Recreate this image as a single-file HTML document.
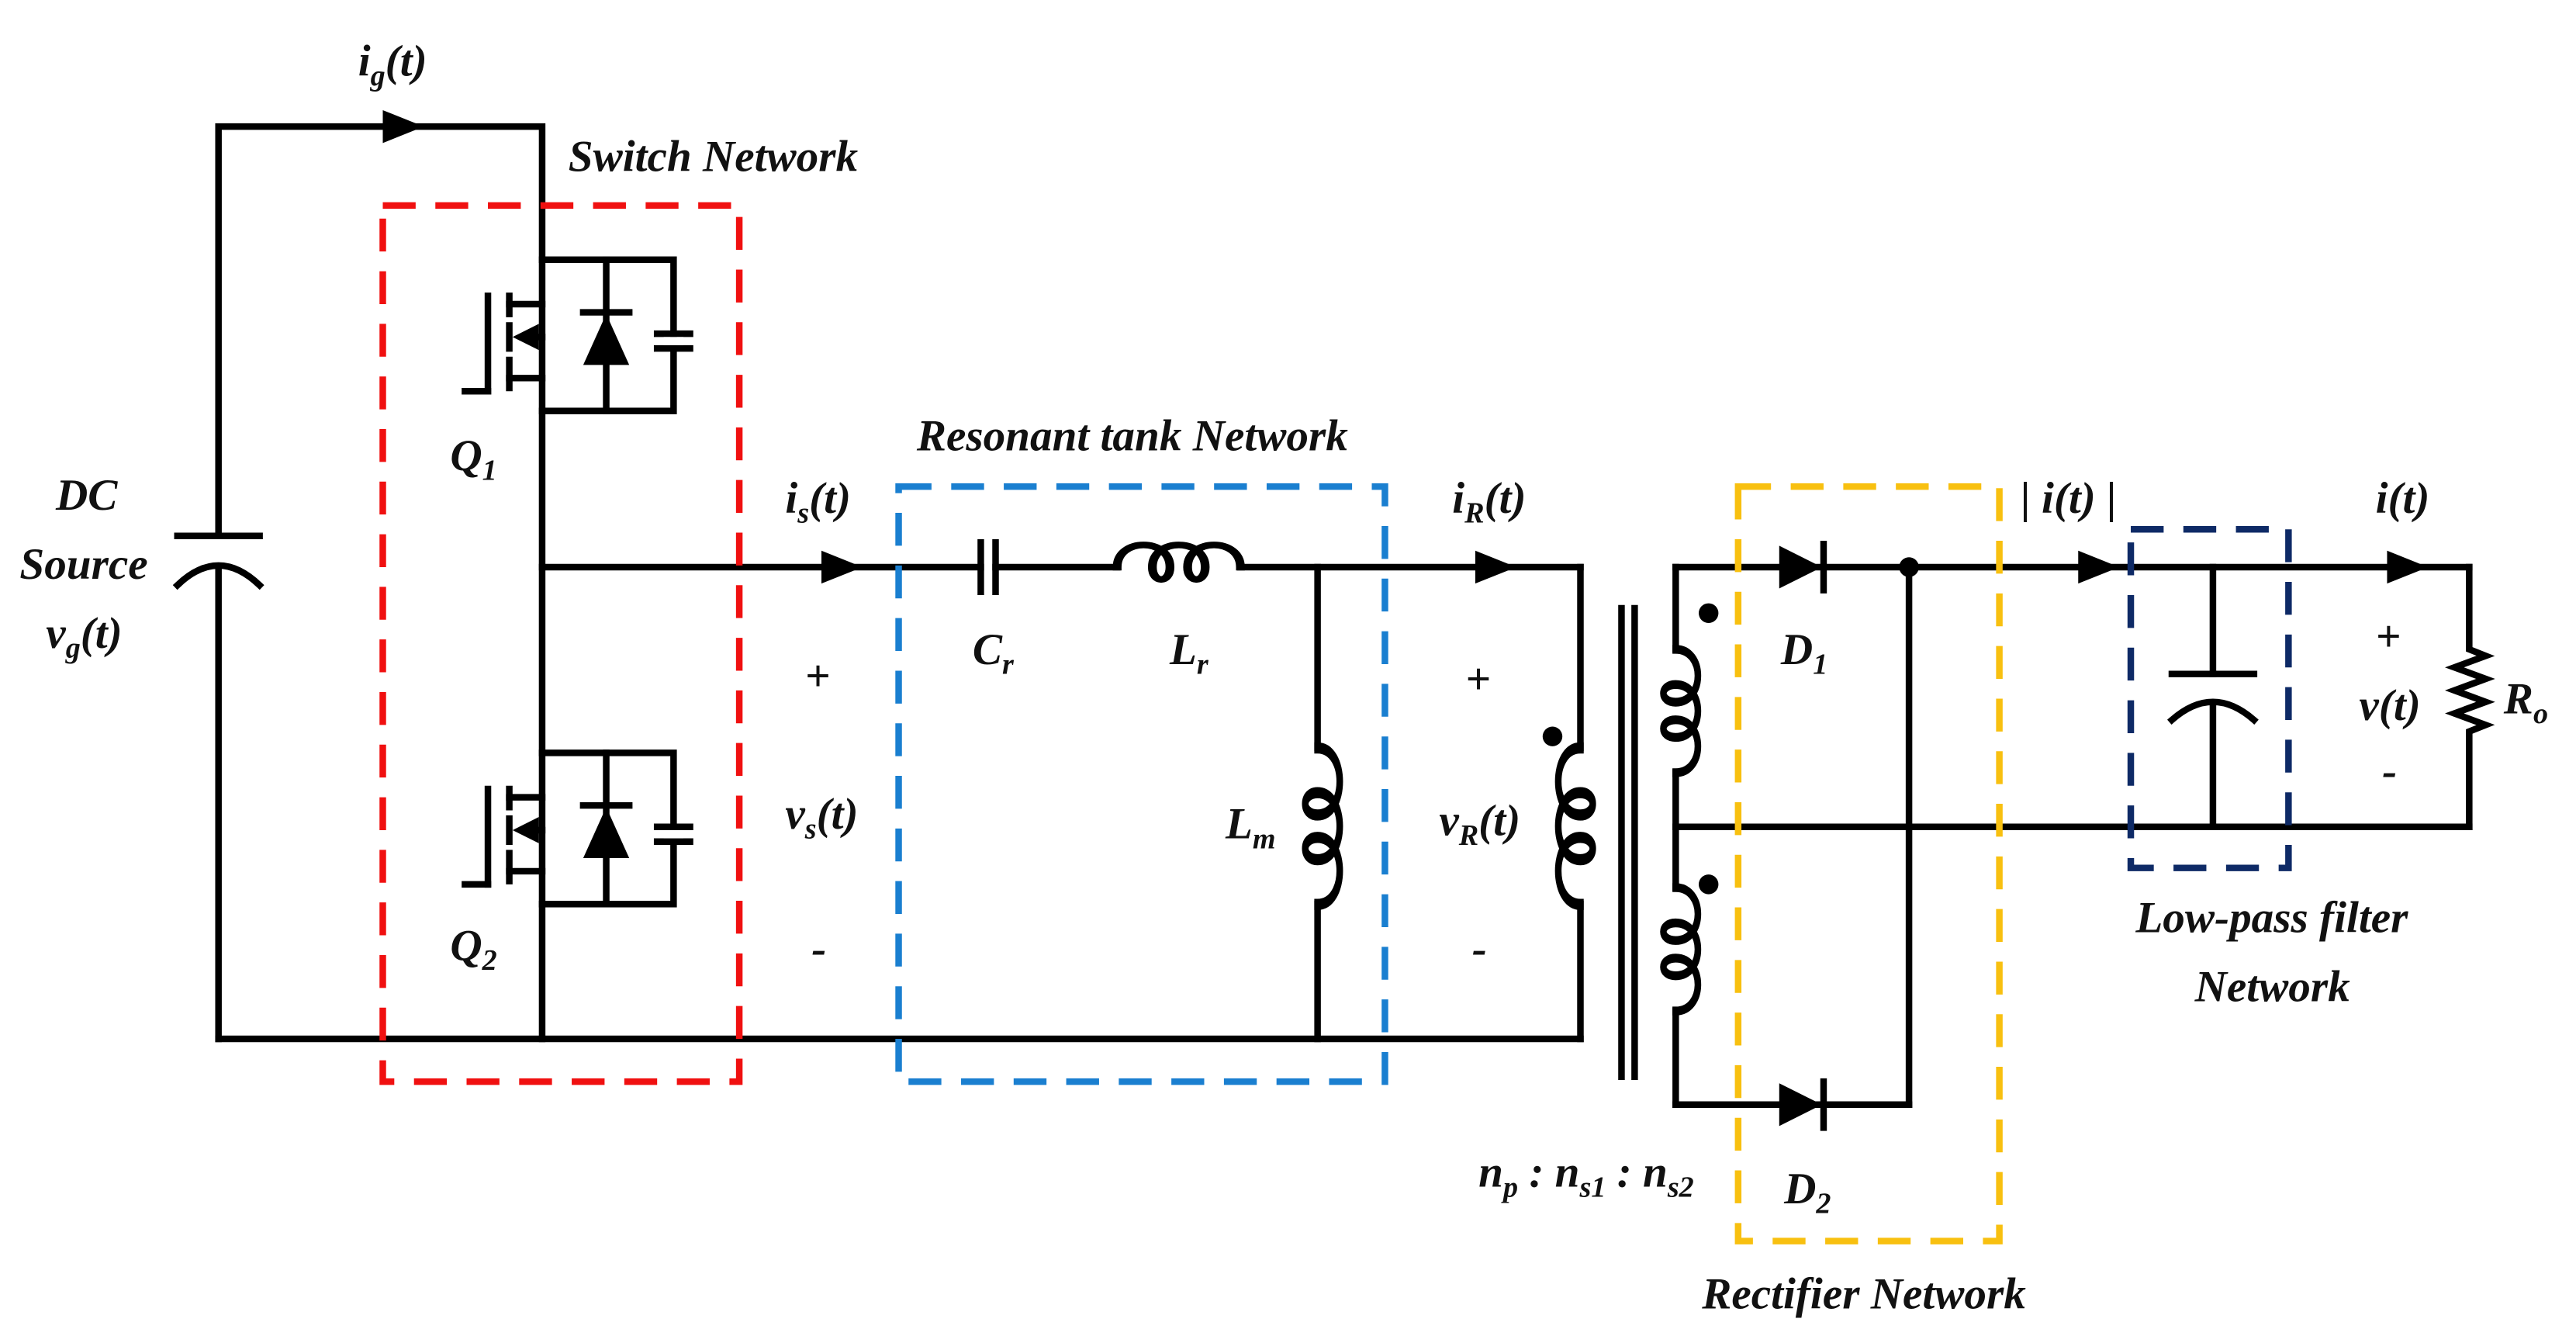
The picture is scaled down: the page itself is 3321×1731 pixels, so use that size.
<!DOCTYPE html>
<html><head><meta charset="utf-8"><style>
html,body{margin:0;padding:0;background:#fff;}
svg{display:block;}
text{font-family:"Liberation Serif",serif;font-weight:bold;font-style:italic;fill:#111;}
</style></head><body>
<svg width="3321" height="1731" viewBox="0 0 1568 817" preserveAspectRatio="none" xmlns="http://www.w3.org/2000/svg">
<defs>
<path id="coil" d="M0,0 c0,-18 24,-18 24,0 c0,10 -8,10 -8,0 c0,-18 24,-18 24,0 c0,10 -8,10 -8,0 c0,-18 24,-18 24,0" fill="none"/>
<g id="sw" stroke="#000" stroke-width="4" fill="none" stroke-linecap="square">
  <rect x="330" y="158" width="80" height="92"/>
  <line x1="369" y1="158" x2="369" y2="250"/>
  <line x1="355" y1="190" x2="383" y2="190"/>
  <polygon points="369,191 355,222 383,222" fill="#000" stroke="none"/>
  <line x1="310" y1="185" x2="330" y2="185"/>
  <line x1="310" y1="230" x2="330" y2="230"/>
  <line x1="318" y1="205" x2="330" y2="205"/>
  <polygon points="312,205 328,197 328,213" fill="#000" stroke="none"/>
  <line x1="310" y1="180" x2="310" y2="191"/>
  <line x1="310" y1="198" x2="310" y2="212"/>
  <line x1="310" y1="219" x2="310" y2="236"/>
  <line x1="297" y1="180" x2="297" y2="238"/>
  <line x1="283" y1="238" x2="297" y2="238"/>
</g>
</defs>
<rect x="0" y="0" width="1568" height="817" fill="#fff"/>

<g stroke="#000" stroke-width="4" fill="none" stroke-linecap="square">
  <!-- left source loop -->
  <polyline points="133,326 133,77 330,77 330,158"/>
  <line x1="133" y1="347" x2="133" y2="632"/>
  <line x1="108" y1="326" x2="158" y2="326"/>
  <path d="M108,356 Q133,332 158,356"/>
  <line x1="330" y1="250" x2="330" y2="458"/>
  <line x1="330" y1="550" x2="330" y2="632"/>
  <line x1="133" y1="632" x2="962" y2="632"/>
  <!-- mid wire -->
  <line x1="330" y1="345" x2="597" y2="345"/>
  <line x1="597" y1="330" x2="597" y2="360"/>
  <line x1="606" y1="330" x2="606" y2="360"/>
  <line x1="606" y1="345" x2="680" y2="345"/>
  <use href="#coil" transform="translate(680,345) scale(1.34,1)"/>
  <line x1="755" y1="345" x2="962" y2="345"/>
  <line x1="802" y1="345" x2="802" y2="455"/>
  <use href="#coil" transform="translate(802,455) rotate(90) scale(1.7,1)"/>
  <line x1="802" y1="550" x2="802" y2="632"/>
  <!-- primary -->
  <line x1="962" y1="345" x2="962" y2="455"/>
  <use href="#coil" transform="translate(962,455) rotate(90) scale(1.7,-1)"/>
  <line x1="962" y1="550" x2="962" y2="632"/>
  <!-- core -->
  <line x1="987" y1="370" x2="987" y2="655"/>
  <line x1="995" y1="370" x2="995" y2="655"/>
  <!-- secondary -->
  <line x1="1020" y1="345" x2="1020" y2="395"/>
  <use href="#coil" transform="translate(1020,395) rotate(90) scale(1.34,1)"/>
  <line x1="1020" y1="470" x2="1020" y2="540"/>
  <use href="#coil" transform="translate(1020,540) rotate(90) scale(1.34,1)"/>
  <line x1="1020" y1="615" x2="1020" y2="672"/>
  <line x1="1020" y1="345" x2="1503" y2="345"/>
  <line x1="1020" y1="503" x2="1503" y2="503"/>
  <line x1="1020" y1="672" x2="1162" y2="672"/>
  <line x1="1162" y1="345" x2="1162" y2="672"/>
  <line x1="1110" y1="331" x2="1110" y2="359"/>
  <line x1="1110" y1="658" x2="1110" y2="686"/>
  <!-- output cap -->
  <line x1="1347" y1="345" x2="1347" y2="410"/>
  <line x1="1322" y1="410" x2="1372" y2="410"/>
  <path d="M1322,438 Q1347,416 1372,438"/>
  <line x1="1347" y1="428" x2="1347" y2="503"/>
  <!-- resistor -->
  <polyline points="1503,345 1503,395 1513,399 1494,406 1513,413 1494,420 1513,427 1494,434 1513,441 1503,445 1503,503" stroke-linejoin="miter"/>
</g>
<!-- diodes -->
<polygon points="1083,332 1083,358 1109,345" fill="#000"/>
<polygon points="1083,659 1083,685 1109,672" fill="#000"/>
<circle cx="1162" cy="345" r="6" fill="#000"/>
<!-- dots -->
<circle cx="945" cy="448" r="6" fill="#000"/>
<circle cx="1040" cy="373" r="6" fill="#000"/>
<circle cx="1040" cy="538" r="6" fill="#000"/>
<!-- switches -->
<use href="#sw"/>
<use href="#sw" transform="translate(0,300)"/>
<g stroke="#000" stroke-width="4">
  <line x1="398" y1="203" x2="422" y2="203"/><line x1="398" y1="212" x2="422" y2="212"/>
  <line x1="398" y1="503" x2="422" y2="503"/><line x1="398" y1="512" x2="422" y2="512"/>
</g>
<g fill="#fff"><rect x="404" y="205" width="12" height="5"/><rect x="404" y="505" width="12" height="5"/></g>
<!-- arrows -->
<g fill="#000">
  <polygon points="233,67 233,87 258,77"/>
  <polygon points="500,335 500,355 525,345"/>
  <polygon points="898,335 898,355 923,345"/>
  <polygon points="1265,335 1265,355 1290,345"/>
  <polygon points="1453,335 1453,355 1478,345"/>
</g>
<!-- dashed boxes -->
<g fill="none" stroke-width="4" stroke-dasharray="20 12">
  <rect x="233" y="125" width="217" height="533" stroke="#f01010"/>
  <rect x="547" y="296" width="296" height="362" stroke="#1a7fd0"/>
  <rect x="1058" y="296" width="159" height="459" stroke="#f8c010"/>
  <rect x="1297" y="322" width="96" height="206" stroke="#0e2a66"/>
</g>
<!-- labels -->
<g font-size="27">
  <text x="218" y="46">i<tspan font-size="18" dy="6">g</tspan><tspan dy="-6">(t)</tspan></text>
  <text x="346" y="104">Switch Network</text>
  <text x="558" y="274">Resonant tank Network</text>
  <text x="34" y="310">DC</text>
  <text x="12" y="352">Source</text>
  <text x="28" y="394">v<tspan font-size="18" dy="6">g</tspan><tspan dy="-6">(t)</tspan></text>
  <text x="274" y="286">Q<tspan font-size="18" dy="6">1</tspan></text>
  <text x="274" y="584">Q<tspan font-size="18" dy="6">2</tspan></text>
  <text x="478" y="312">i<tspan font-size="18" dy="6">s</tspan><tspan dy="-6">(t)</tspan></text>
  <text x="490" y="420" font-style="normal" font-weight="normal">+</text>
  <text x="478" y="504">v<tspan font-size="18" dy="6">s</tspan><tspan dy="-6">(t)</tspan></text>
  <text x="494" y="586" font-style="normal" font-weight="normal">-</text>
  <text x="592" y="404">C<tspan font-size="18" dy="6">r</tspan></text>
  <text x="712" y="404">L<tspan font-size="18" dy="6">r</tspan></text>
  <text x="746" y="510">L<tspan font-size="18" dy="6">m</tspan></text>
  <text x="884" y="312">i<tspan font-size="18" dy="6">R</tspan><tspan dy="-6">(t)</tspan></text>
  <text x="892" y="422" font-style="normal" font-weight="normal">+</text>
  <text x="876" y="508">v<tspan font-size="18" dy="6">R</tspan><tspan dy="-6">(t)</tspan></text>
  <text x="896" y="586" font-style="normal" font-weight="normal">-</text>
  <text x="1084" y="404">D<tspan font-size="18" dy="6">1</tspan></text>
  <text x="1086" y="732">D<tspan font-size="18" dy="6">2</tspan></text>
  <text x="1230" y="312">| i(t) |</text>
  <text x="1446" y="312">i(t)</text>
  <text x="1446" y="396" font-style="normal" font-weight="normal">+</text>
  <text x="1436" y="438">v(t)</text>
  <text x="1450" y="478" font-style="normal" font-weight="normal">-</text>
  <text x="1524" y="434">R<tspan font-size="18" dy="6">o</tspan></text>
  <text x="1300" y="567">Low-pass filter</text>
  <text x="1336" y="609">Network</text>
  <text x="1036" y="796">Rectifier Network</text>
  <text x="900" y="722">n<tspan font-size="18" dy="6">p</tspan><tspan dy="-6"> : n</tspan><tspan font-size="18" dy="6">s1</tspan><tspan dy="-6"> : n</tspan><tspan font-size="18" dy="6">s2</tspan></text>
</g>
</svg>
</body></html>
